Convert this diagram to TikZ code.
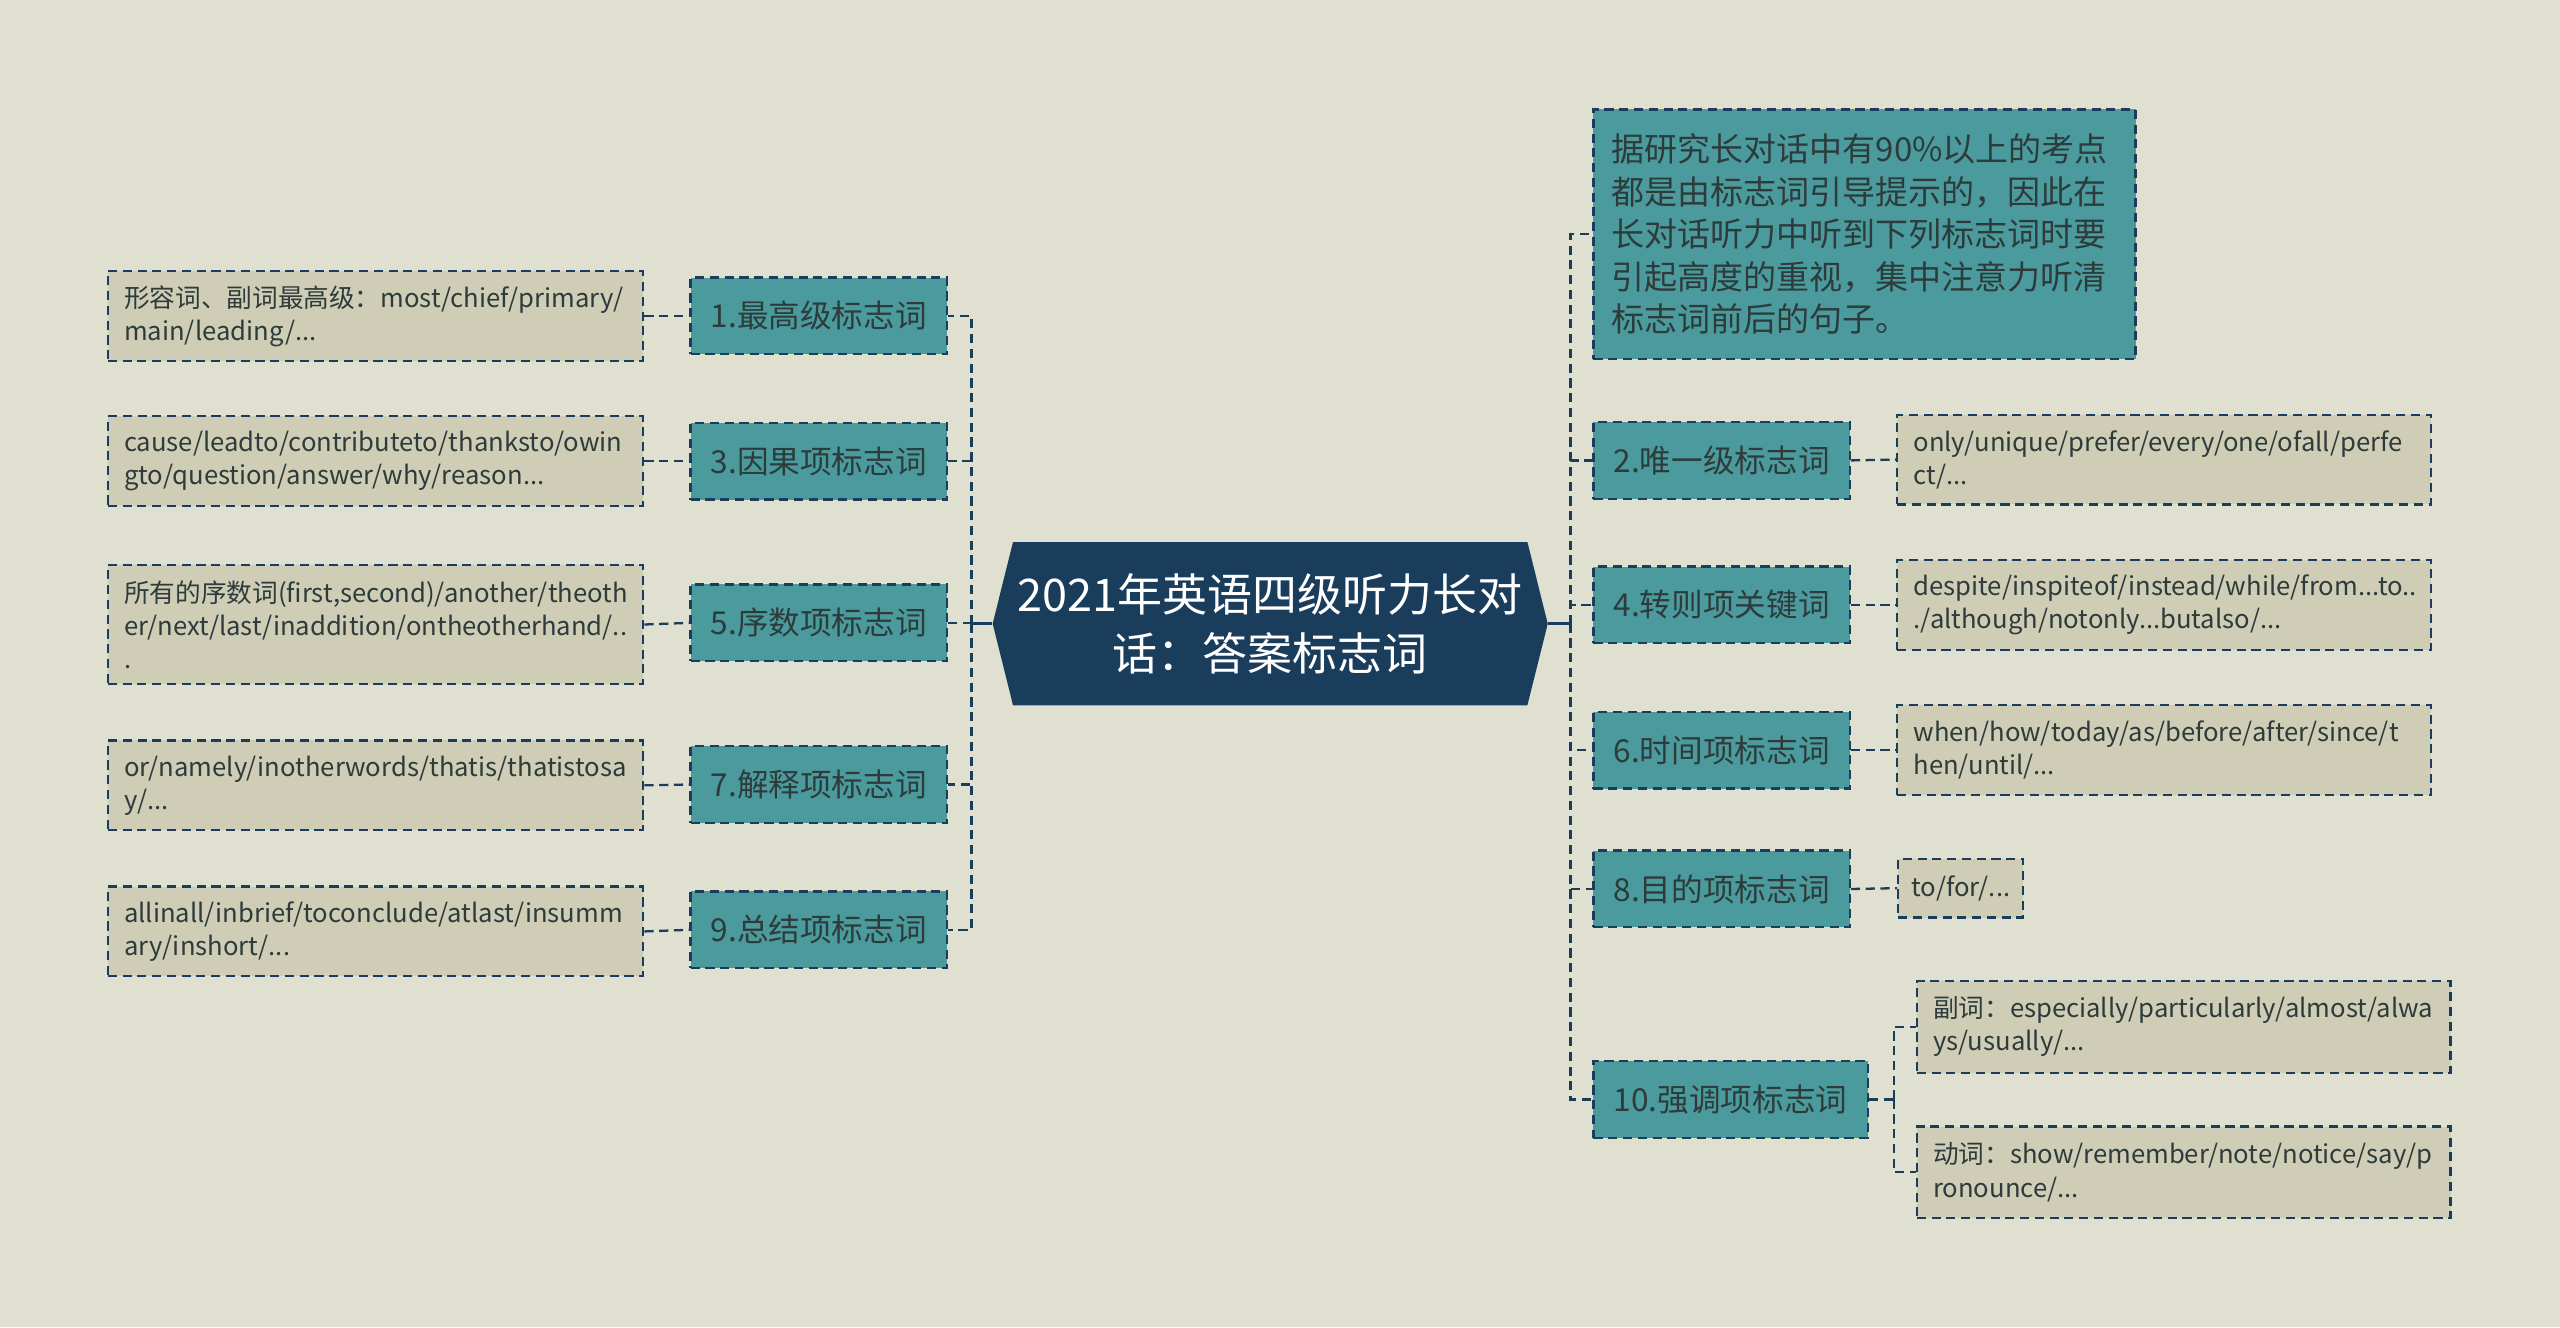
\documentclass[tikz,border=0pt]{standalone}
\usepackage{fontspec}
\usetikzlibrary{shapes.symbols}
\newfontfamily\cjk{Noto Sans CJK SC}
\newlength\pxu
\setlength\pxu{0.016327cm}
\definecolor{bgcol}{HTML}{E0E0D0}
\definecolor{leafcol}{HTML}{CFCDB6}
\definecolor{catcol}{HTML}{4B9B9E}
\definecolor{navy}{HTML}{1B3D5C}
\definecolor{txtcol}{HTML}{2E3B3B}
\tikzset{
  dashline/.style={draw=navy, line width=0.65pt, dash pattern=on 2.6pt off 1.6pt},
  leafbox/.style={dashline, fill=leafcol, text=txtcol, align=left, inner xsep=10\pxu, inner ysep=0pt, font=\cjk\fontsize{7.3}{9.4}\selectfont},
  catbox/.style={dashline, fill=catcol, text=txtcol, minimum width=157\pxu, minimum height=47\pxu, inner sep=0pt, font=\cjk\fontsize{9}{11}\selectfont},
  link/.style={dashline},
  stem/.style={draw=navy, line width=1pt}
}

\begin{document}
\begin{tikzpicture}[x=0.016327cm, y=-0.016327cm]
    % Background and frame
    \fill[bgcol] (0,0) rectangle (1568,813);
    \useasboundingbox (0,0) rectangle (1568,813);
    % Central topic
    \node[signal, signal to=west and east, signal pointer angle=152, fill=navy, text=white, minimum width=340\pxu, minimum height=100\pxu, inner sep=0pt, align=center, font=\cjk\fontsize{12.8}{16.7}\selectfont] (root) at (778,382) {2021年英语四级听力长对\\话：答案标志词};
    % Left categories
    \node[catbox] (c1) at (501.5,193.5) {1.最高级标志词};
    \node[catbox] (c3) at (501.5,282.5) {3.因果项标志词};
    \node[catbox] (c5) at (501.5,381.5) {5.序数项标志词};
    \node[catbox] (c7) at (501.5,480.5) {7.解释项标志词};
    \node[catbox] (c9) at (501.5,569.5) {9.总结项标志词};
    % Left leaves
    \node[leafbox, text width=308\pxu, minimum height=55\pxu] (l1) at (230,193.5) {形容词、副词最高级：most/chief/primary/\\main/leading/...};
    \node[leafbox, text width=308\pxu, minimum height=55\pxu] (l3) at (230,282.5) {cause/leadto/contributeto/thanksto/owin\\gto/question/answer/why/reason...};
    \node[leafbox, text width=308\pxu, minimum height=73\pxu] (l5) at (230,382.5) {所有的序数词(first,second)/another/theoth\\er/next/last/inaddition/ontheotherhand/..\\.};
    \node[leafbox, text width=308\pxu, minimum height=55\pxu] (l7) at (230,481) {or/namely/inotherwords/thatis/thatistosa\\y/...};
    \node[leafbox, text width=308\pxu, minimum height=55\pxu] (l9) at (230,570.5) {allinall/inbrief/toconclude/atlast/insumm\\ary/inshort/...};
    % Right note
    \node[dashline, fill=catcol, text=txtcol, align=left, text width=310\pxu, minimum height=153\pxu, inner xsep=11\pxu, inner ysep=0pt, font=\cjk\fontsize{9.4}{12.1}\selectfont] (note) at (1142,143.5) {据研究长对话中有90\%以上的考点\\都是由标志词引导提示的，因此在\\长对话听力中听到下列标志词时要\\引起高度的重视，集中注意力听清\\标志词前后的句子。};
    % Right categories
    \node[catbox] (c2) at (1054.5,282) {2.唯一级标志词};
    \node[catbox] (c4) at (1054.5,370.5) {4.转则项关键词};
    \node[catbox] (c6) at (1054.5,459.5) {6.时间项标志词};
    \node[catbox] (c8) at (1054.5,544.5) {8.目的项标志词};
    \node[catbox, minimum width=168\pxu] (c10) at (1060,673.5) {10.强调项标志词};
    % Right leaves
    \node[leafbox, text width=307\pxu, minimum height=55\pxu] (r2) at (1325.5,281.5) {only/unique/prefer/every/one/ofall/perfe\\ct/...};
    \node[leafbox, text width=307\pxu, minimum height=55\pxu] (r4) at (1325.5,370.5) {despite/inspiteof/instead/while/from...to..\\./although/notonly...butalso/...};
    \node[leafbox, text width=307\pxu, minimum height=55\pxu] (r6) at (1325.5,459.5) {when/how/today/as/before/after/since/t\\hen/until/...};
    \node[leafbox, inner xsep=8\pxu, minimum height=36\pxu] (r8) at (1201,544) {to/for/...};
    \node[leafbox, text width=307\pxu, minimum height=56\pxu] (r10a) at (1337.5,629) {副词：especially/particularly/almost/alwa\\ys/usually/...};
    \node[leafbox, text width=307\pxu, minimum height=56\pxu] (r10b) at (1337.5,718) {动词：show/remember/note/notice/say/p\\ronounce/...};
    % Connectors
    \coordinate (lj) at (595,382);
    \coordinate (rj) at (962,382);
    \coordinate (tj) at (1160,673.5);
    \draw[stem] (root.west) -- (lj);
    \draw[stem] (root.east) -- (rj);
    \foreach \c in {c1,c3,c5,c7,c9}
      \draw[link] (lj) |- (\c.east);
    \foreach \c in {note,c2,c4,c6,c8,c10}
      \draw[link] (rj) |- (\c.west);
    \draw[link] (l1.east) -- (c1.west);
    \draw[link] (l3.east) -- (c3.west);
    \draw[link] (l5.east) -- (c5.west);
    \draw[link] (l7.east) -- (c7.west);
    \draw[link] (l9.east) -- (c9.west);
    \draw[link] (c2.east) -- (r2.west);
    \draw[link] (c4.east) -- (r4.west);
    \draw[link] (c6.east) -- (r6.west);
    \draw[link] (c8.east) -- (r8.west);
    \draw[link] (c10.east) -- (tj);
    \draw[link] (tj) |- (r10a.west);
    \draw[link] (tj) |- (r10b.west);
\end{tikzpicture}
\end{document}
